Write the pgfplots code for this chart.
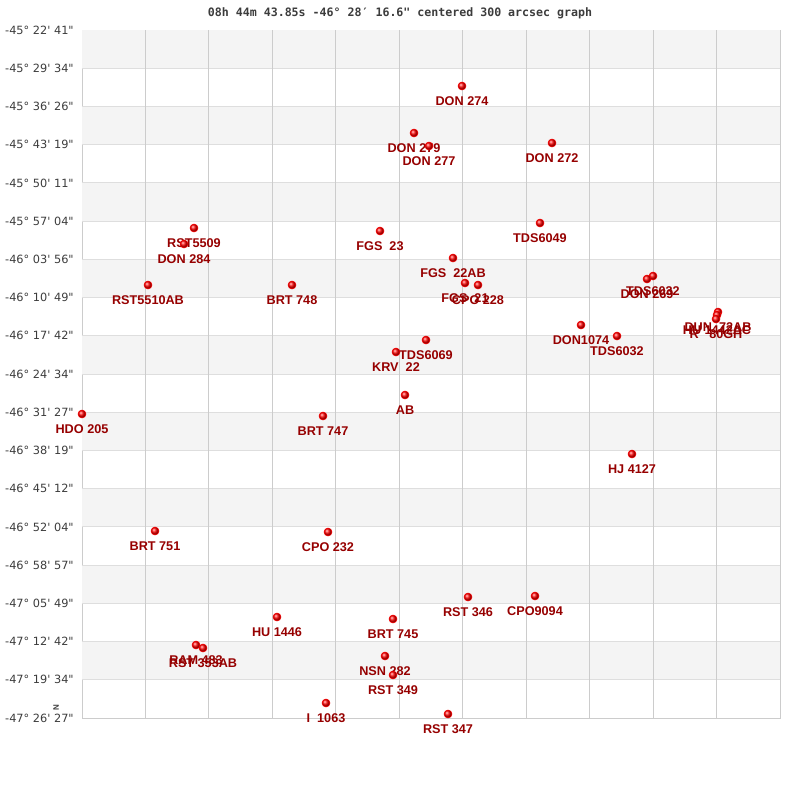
\documentclass[border=0pt]{standalone}
\usepackage{fontspec}
\setmainfont{Liberation Sans}
\newfontfamily\dejavu{DejaVu Sans}
\newfontfamily\mono{DejaVu Sans Mono}
\usepackage{pgfplots}
\usepackage{pgfplotstable}
\pgfplotsset{compat=1.18}
\definecolor{labred}{RGB}{150,0,0}
\definecolor{band}{RGB}{244,244,244}
\definecolor{vgrid}{RGB}{204,204,204}
\definecolor{hgrid}{RGB}{222,222,222}
\definecolor{tickc}{RGB}{60,60,60}
\newcommand{\tl}[3]{-#1°~#2\symbol{"27}~#3\symbol{"22}}
\pgfplotstableread[col sep=comma]{
x,y,name
462,86,DON 274
414,133,DON 279
429,146,DON 277
552,143,DON 272
540,223,TDS6049
380,231,FGS\ \ 23
194,228,RST5509
184,244,DON 284
148,285,RST5510AB
292,285,BRT 748
453,258,FGS\ \ 22AB
465,283,FGS\ \ 21
478,285,CPO 228
426,340,TDS6069
396,352,KRV\ \ 22
405,395,AB
653,276,TDS6032
647,279,DON 269
581,325,DON1074
617,336,TDS6032
718,312,DUN\ \ 72AB
717,315,HU 1442AC
716,319,R\ \ \ 80GH
82,414,HDO 205
323,416,BRT 747
632,454,HJ 4127
155,531,BRT 751
328,532,CPO 232
468,597,RST 346
535,596,CPO9094
277,617,HU 1446
393,619,BRT 745
196,645,RAM 483
203,648,RST 353AB
385,656,NSN 282
393,675,RST 349
326,703,I\ \ 1063
448,714,RST 347
}\stars
\begin{document}
\begin{tikzpicture}
\path[use as bounding box] (0,0) rectangle (600pt,600pt);
\begin{axis}[
  at={(61.5pt,61.5pt)}, anchor=south west,
  scale only axis, width=523.5pt, height=516pt,
  xmin=82, xmax=780, ymin=30, ymax=718, y dir=reverse,
  clip=false,
  axis line style={draw=vgrid},
  xtick=\empty,
  ytick={30,68.222,106.444,144.667,182.889,221.111,259.333,297.556,335.778,374,412.222,450.444,488.667,526.889,565.111,603.333,641.556,679.778,718},
  yticklabels={\tl{45}{22}{41},\tl{45}{29}{34},\tl{45}{36}{26},\tl{45}{43}{19},\tl{45}{50}{11},\tl{45}{57}{04},\tl{46}{03}{56},\tl{46}{10}{49},\tl{46}{17}{42},\tl{46}{24}{34},\tl{46}{31}{27},\tl{46}{38}{19},\tl{46}{45}{12},\tl{46}{52}{04},\tl{46}{58}{57},\tl{47}{05}{49},\tl{47}{12}{42},\tl{47}{19}{34},\tl{47}{26}{27}},
  major tick length=0pt,
  yticklabel style={font=\dejavu\fontsize{8.5}{10}\selectfont, text=tickc, inner sep=0pt, xshift=-6pt},
]
% bands
\fill[band] (axis cs:82,30) rectangle (axis cs:780,68.222);
\fill[band] (axis cs:82,106.444) rectangle (axis cs:780,144.667);
\fill[band] (axis cs:82,182.889) rectangle (axis cs:780,221.111);
\fill[band] (axis cs:82,259.333) rectangle (axis cs:780,297.556);
\fill[band] (axis cs:82,335.778) rectangle (axis cs:780,374);
\fill[band] (axis cs:82,412.222) rectangle (axis cs:780,450.444);
\fill[band] (axis cs:82,488.667) rectangle (axis cs:780,526.889);
\fill[band] (axis cs:82,565.111) rectangle (axis cs:780,603.333);
\fill[band] (axis cs:82,641.556) rectangle (axis cs:780,679.778);
% horizontal lines
\pgfplotsinvokeforeach{68.222,106.444,144.667,182.889,221.111,259.333,297.556,335.778,374,412.222,450.444,488.667,526.889,565.111,603.333,641.556,679.778}{
  \draw[hgrid, line width=0.75pt] (axis cs:82,#1) -- (axis cs:780,#1);
}
\pgfplotsinvokeforeach{145.45,208.91,272.36,335.82,399.27,462.73,526.18,589.64,653.09,716.55}{
  \draw[vgrid, line width=0.75pt] (axis cs:#1,30) -- (axis cs:#1,718);
}
\addplot[draw=none, mark=none, nodes near coords, point meta=explicit symbolic,
  nodes near coords style={anchor=center, yshift=-11.25pt, inner sep=0pt,
    font=\bfseries\fontsize{9.5}{11}\selectfont, text=labred}]
  table[x=x, y=y, meta=name]{\stars};
\addplot[only marks, color=red, mark=ball, mark size=3pt, mark options={ball color=red}] table[x=x, y=y]{\stars};
\end{axis}
\node[font=\mono\bfseries\fontsize{8.7}{10}\selectfont, text=tickc] at (300pt,590.25pt)
  {08h 44m 43.85s -46° 28′ 16.6\symbol{"22} centered 300 arcsec graph};
\node[font=\bfseries\fontsize{6}{7}\selectfont, rotate=90, text=tickc, inner sep=0pt] at (42pt,69pt) {N};
\end{tikzpicture}
\end{document}
